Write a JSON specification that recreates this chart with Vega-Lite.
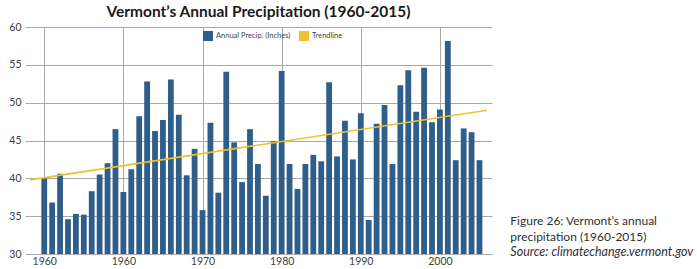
{
  "$schema": "https://vega.github.io/schema/vega-lite/v6.json",
  "width": 467,
  "height": 227,
  "autosize": {"type": "none"},
  "padding": {"left": 25, "top": 27, "right": 205, "bottom": 15},
  "background": "white",
  "title": {
    "text": "Vermont’s Annual Precipitation (1960-2015)",
    "font": "Lato",
    "fontSize": 15.5,
    "fontWeight": "bold",
    "color": "#1a1a1a",
    "anchor": "middle",
    "offset": 2
  },
  "config": {
    "view": {"stroke": null},
    "axis": {"labelFont": "Lato", "labelColor": "#404040", "gridColor": "#a8a8a8", "gridWidth": 1, "gridOpacity": 1}
  },
  "resolve": {"axis": {"x": "independent", "y": "independent"}},
  "datasets": {
    "precip": [
      {"year": 1960, "precip": 40.0}, {"year": 1961, "precip": 36.8}, {"year": 1962, "precip": 40.6},
      {"year": 1963, "precip": 34.6}, {"year": 1964, "precip": 35.3}, {"year": 1965, "precip": 35.2},
      {"year": 1966, "precip": 38.3}, {"year": 1967, "precip": 40.5}, {"year": 1968, "precip": 42.0},
      {"year": 1969, "precip": 46.5}, {"year": 1970, "precip": 38.2}, {"year": 1971, "precip": 41.2},
      {"year": 1972, "precip": 48.2}, {"year": 1973, "precip": 52.8}, {"year": 1974, "precip": 46.25},
      {"year": 1975, "precip": 47.7}, {"year": 1976, "precip": 53.05}, {"year": 1977, "precip": 48.4},
      {"year": 1978, "precip": 40.4}, {"year": 1979, "precip": 43.9}, {"year": 1980, "precip": 35.8},
      {"year": 1981, "precip": 47.35}, {"year": 1982, "precip": 38.1}, {"year": 1983, "precip": 54.1},
      {"year": 1984, "precip": 44.75}, {"year": 1985, "precip": 39.5}, {"year": 1986, "precip": 46.5},
      {"year": 1987, "precip": 41.9}, {"year": 1988, "precip": 37.7}, {"year": 1989, "precip": 44.9},
      {"year": 1990, "precip": 54.2}, {"year": 1991, "precip": 41.9}, {"year": 1992, "precip": 38.6},
      {"year": 1993, "precip": 41.9}, {"year": 1994, "precip": 43.1}, {"year": 1995, "precip": 42.25},
      {"year": 1996, "precip": 52.7}, {"year": 1997, "precip": 42.9}, {"year": 1998, "precip": 47.6},
      {"year": 1999, "precip": 42.5}, {"year": 2000, "precip": 48.6}, {"year": 2001, "precip": 34.5},
      {"year": 2002, "precip": 47.2}, {"year": 2003, "precip": 49.7}, {"year": 2004, "precip": 41.9},
      {"year": 2005, "precip": 52.3}, {"year": 2006, "precip": 54.3}, {"year": 2007, "precip": 48.8},
      {"year": 2008, "precip": 54.6}, {"year": 2009, "precip": 47.4}, {"year": 2010, "precip": 49.1},
      {"year": 2011, "precip": 58.15}, {"year": 2012, "precip": 42.4}, {"year": 2013, "precip": 46.6},
      {"year": 2014, "precip": 46.1}, {"year": 2015, "precip": 42.4}
    ],
    "trend": [
      {"year": 1958.2, "trend": 39.8},
      {"year": 2015.95, "trend": 49.0}
    ]
  },
  "layer": [
    {
      "data": {"name": "precip"},
      "mark": {"type": "bar", "width": 5.8},
      "encoding": {
        "x": {
          "field": "year", "type": "quantitative",
          "scale": {"domain": [1958.2, 2015.95], "nice": false, "zero": false},
          "axis": {
            "title": null,
            "values": [1960, 1970, 1980, 1990, 2000, 2010],
            "labelExpr": "datum.value == 1960 ? '1960' : toString(datum.value - 10)",
            "domain": false, "ticks": false,
            "labelFontSize": 10.5, "labelPadding": 2,
            "grid": true
          }
        },
        "y": {
          "field": "precip", "type": "quantitative",
          "scale": {"domain": [30, 60], "nice": false, "zero": false},
          "axis": {
            "title": null,
            "values": [30, 35, 40, 45, 50, 55, 60],
            "labelOverlap": false,
            "domain": false, "ticks": false,
            "labelFontSize": 10.5, "labelPadding": 4,
            "grid": true
          }
        },
        "y2": {"datum": 30},
        "color": {
          "datum": "Annual Precip. (Inches)",
          "type": "nominal",
          "scale": {"domain": ["Annual Precip. (Inches)", "Trendline"], "range": ["#2f5e8a", "#f0c030"]},
          "legend": {
            "title": null,
            "orient": "none",
            "legendX": 178,
            "legendY": 4,
            "direction": "horizontal",
            "symbolType": "square",
            "symbolSize": 100,
            "symbolStrokeWidth": 0,
            "labelFont": "Lato",
            "labelFontSize": 7.5,
            "labelColor": "#444444",
            "labelOffset": 3,
            "columnPadding": 8,
            "encode": {"symbols": {"update": {"fill": {"scale": "color", "field": "value"}, "fillOpacity": {"value": 1}, "stroke": {"value": "transparent"}}}}
          }
        }
      }
    },
    {
      "data": {"name": "trend"},
      "mark": {"type": "line", "strokeWidth": 1.6},
      "encoding": {
        "x": {"field": "year", "type": "quantitative", "axis": null},
        "y": {"field": "trend", "type": "quantitative", "axis": null},
        "color": {"datum": "Trendline", "type": "nominal"}
      }
    },
    {
      "data": {"values": [{}]},
      "mark": {"type": "text", "align": "left", "baseline": "middle", "font": "Lato", "fontSize": 12, "color": "#303030", "text": "Figure 26: Vermont’s annual"},
      "encoding": {"x": {"datum": 2018.9, "axis": null}, "y": {"datum": 34.4, "axis": null}}
    },
    {
      "data": {"values": [{}]},
      "mark": {"type": "text", "align": "left", "baseline": "middle", "font": "Lato", "fontSize": 12, "color": "#303030", "text": "precipitation (1960-2015)"},
      "encoding": {"x": {"datum": 2018.9, "axis": null}, "y": {"datum": 32.3, "axis": null}}
    },
    {
      "data": {"values": [{}]},
      "mark": {"type": "text", "align": "left", "baseline": "middle", "font": "Lato", "fontSize": 12.5, "fontStyle": "italic", "color": "#303030", "text": "Source: climatechange.vermont.gov"},
      "encoding": {"x": {"datum": 2018.9, "axis": null}, "y": {"datum": 30.2, "axis": null}}
    }
  ]
}
